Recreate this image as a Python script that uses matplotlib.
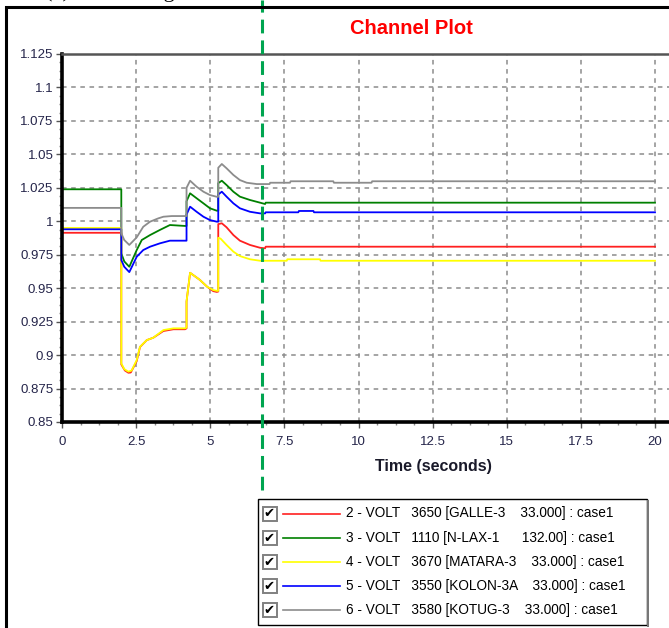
import matplotlib.pyplot as plt
from matplotlib.patches import Rectangle
from matplotlib.ticker import MultipleLocator, AutoMinorLocator

# ---- data (time in s, voltage in pu) ----
t_red = [0, 2.0, 2.0, 2.12, 2.24, 2.32, 2.52, 2.63, 2.86, 3.08, 3.42, 3.76, 4.15, 4.2,
         4.2, 4.32, 4.65, 4.9, 5.1, 5.22, 5.27, 5.27, 5.39, 5.55, 5.78, 6.0, 6.34, 6.68,
         6.85, 6.87, 20]
v_red = [0.9914, 0.9914, 0.8930, 0.8885, 0.8868, 0.8870, 0.8955, 0.9060, 0.9112, 0.9130,
         0.9180, 0.9193, 0.9193, 0.9200, 0.9400, 0.9615, 0.9562, 0.9510, 0.9478, 0.9472,
         0.9475, 0.9979, 0.9985, 0.9955, 0.9897, 0.9855, 0.9823, 0.9802, 0.9798, 0.9810, 0.9810]

t_green = [0, 2.0, 2.0, 2.1, 2.27, 2.52, 2.69, 2.97, 3.3, 3.64, 4.15, 4.2, 4.2, 4.32, 4.54,
           4.77, 4.99, 5.22, 5.27, 5.27, 5.39, 5.55, 5.78, 6.0, 6.34, 6.68, 6.85, 6.87, 20]
v_green = [1.0239, 1.0239, 0.9760, 0.9700, 0.9660, 0.9785, 0.9860, 0.9897, 0.9935, 0.9972,
           0.9965, 0.9965, 1.0150, 1.0209, 1.0172, 1.0134, 1.0097, 1.0079, 1.0079, 1.0285,
           1.0303, 1.0271, 1.0221, 1.0184, 1.0159, 1.0139, 1.0129, 1.0139, 1.0139]

t_yellow = [0, 2.0, 2.0, 2.1, 2.24, 2.35, 2.52, 2.63, 2.86, 3.08, 3.42, 3.76, 4.15, 4.2,
            4.2, 4.32, 4.65, 4.9, 5.1, 5.22, 5.27, 5.27, 5.35, 5.55, 5.78, 6.0, 6.34, 6.68,
            7.58, 7.6, 8.7, 8.72, 20]
v_yellow = [0.9950, 0.9950, 0.8938, 0.8895, 0.8876, 0.8885, 0.8963, 0.9062, 0.9112, 0.9130,
            0.9187, 0.9200, 0.9200, 0.9205, 0.9400, 0.9615, 0.9562, 0.9510, 0.9486, 0.9480,
            0.9480, 0.9877, 0.9870, 0.9823, 0.9773, 0.9740, 0.9716, 0.9705, 0.9705, 0.9716,
            0.9716, 0.9705, 0.9705]

t_blue = [0, 2.0, 2.0, 2.1, 2.27, 2.52, 2.74, 2.97, 3.3, 3.64, 4.15, 4.2, 4.2, 4.32, 4.54,
          4.77, 4.99, 5.22, 5.27, 5.27, 5.39, 5.55, 5.78, 6.0, 6.34, 6.68, 6.85, 6.87, 7.97,
          7.99, 8.48, 8.5, 20]
v_blue = [0.9940, 0.9940, 0.9710, 0.9660, 0.9620, 0.9735, 0.9785, 0.9810, 0.9835, 0.9855,
          0.9855, 0.9855, 1.0050, 1.0109, 1.0071, 1.0034, 1.0009, 0.9997, 0.9997, 1.0200,
          1.0221, 1.0184, 1.0134, 1.0097, 1.0071, 1.0059, 1.0059, 1.0067, 1.0067, 1.0077,
          1.0077, 1.0067, 1.0067]

t_gray = [0, 2.0, 2.0, 2.1, 2.27, 2.52, 2.74, 2.97, 3.25, 3.42, 3.7, 4.15, 4.2, 4.2, 4.32,
          4.54, 4.77, 4.99, 5.22, 5.27, 5.27, 5.39, 5.55, 5.78, 6.0, 6.23, 6.57, 7.0, 7.02,
          7.69, 7.71, 9.15, 9.17, 10.44, 10.46, 20]
v_gray = [1.0100, 1.0100, 0.9910, 0.9860, 0.9823, 0.9880, 0.9959, 0.9997, 1.0022, 1.0034,
          1.0039, 1.0039, 1.0039, 1.0250, 1.0303, 1.0258, 1.0221, 1.0196, 1.0183, 1.0183,
          1.0400, 1.0428, 1.0396, 1.0346, 1.0308, 1.0288, 1.0278, 1.0278, 1.0288, 1.0288,
          1.0299, 1.0299, 1.0288, 1.0288, 1.0299, 1.0299]

series = [
    (t_red, v_red, "#ff2020"),
    (t_green, v_green, "#008000"),
    (t_yellow, v_yellow, "#ffff00"),
    (t_blue, v_blue, "#0000ff"),
    (t_gray, v_gray, "#8c8c8c"),
]

legend_labels = [
    "2 - VOLT   3650 [GALLE-3    33.000] : case1",
    "3 - VOLT   1110 [N-LAX-1      132.00] : case1",
    "4 - VOLT   3670 [MATARA-3    33.000] : case1",
    "5 - VOLT   3550 [KOLON-3A    33.000] : case1",
    "6 - VOLT   3580 [KOTUG-3    33.000] : case1",
]

marker_time = 6.73
x_ticks = [0, 2.5, 5, 7.5, 10, 12.5, 15, 17.5, 20]
x_tick_labels = ["0", "2.5", "5", "7.5", "10", "12.5", "15", "17.5", "20"]
y_ticks = [0.85, 0.875, 0.9, 0.925, 0.95, 0.975, 1.0, 1.025, 1.05, 1.075, 1.1, 1.125]
y_tick_labels = ["0.85", "0.875", "0.9", "0.925", "0.95", "0.975", "1", "1.025", "1.05",
                 "1.075", "1.1", "1.125"]

W, H = 669, 628
plt.rcParams['font.family'] = ['Liberation Sans', 'DejaVu Sans']

fig = plt.figure(figsize=(W / 100, H / 100), dpi=100)

# outer window frame (left and top edges only are visible)
fig.patches.append(Rectangle((6 / W, -0.1), 1.2, 1 - 7 / H + 0.1, transform=fig.transFigure,
                             fill=False, edgecolor="black", linewidth=2.2))

# caption of the page, mostly cut off at the top
fig.text(45 / W, 1.0 + 3 / H, "(a) Bus Voltage", family="Liberation Serif", fontsize=16.2,
         va="baseline", ha="left", color="black")

ax = fig.add_axes([62 / W, 1 - 422 / H, (W - 62) / W, (422 - 54) / H])
for t, v, c in series:
    ax.plot(t, v, color=c, linewidth=1.3)

ax.set_xlim(0, 20 * (W - 62) / (655 - 62))
ax.set_ylim(0.85, 1.125)
ax.set_xticks(x_ticks)
ax.set_xticklabels(x_tick_labels)
ax.set_yticks(y_ticks)
ax.set_yticklabels(y_tick_labels)
ax.xaxis.set_minor_locator(MultipleLocator(0.625))
ax.yaxis.set_minor_locator(AutoMinorLocator(4))
ax.tick_params(which="major", length=4, width=1, color="#555555", labelsize=9.5,
               labelcolor="#25254a")
ax.tick_params(axis="x", pad=6)
ax.tick_params(axis="y", pad=2)
ax.tick_params(which="minor", length=2.5, width=1, color="#888888")
ax.grid(True, which="major", color="#8c8c8c", linestyle=(0, (3, 3)), linewidth=1.1)

ax.spines["right"].set_visible(False)
ax.spines["top"].set_color("#555555")
ax.spines["top"].set_linewidth(1.8)
ax.spines["left"].set_linewidth(2.6)
ax.spines["bottom"].set_linewidth(2.6)

ax.set_xlabel("Time (seconds)", fontsize=11.5, fontweight="bold", color="#1a1a2a")
ax.xaxis.set_label_coords((433 - 62) / (W - 62), -(459 - 422) / (422 - 54))

fig.text(411 / W, 1 - 29 / H, "Channel Plot", color="red", fontsize=14.5,
         fontweight="bold", ha="center", va="center")

# cursor line at the marked time
ax.axvline(marker_time, ymin=-(490 - 422) / (422 - 54), ymax=422 / (422 - 54),
           color="#00a550", linewidth=2.2, linestyle=(0, (4.5, 2.3)), clip_on=False, zorder=5)

# legend window drawn in pixel units
lx0, ly0, lx1, ly1 = 257, 498, 649, 627
lax = fig.add_axes([lx0 / W, 1 - ly1 / H, (lx1 - lx0) / W, (ly1 - ly0) / H])
lax.set_xlim(lx0, lx1)
lax.set_ylim(ly1, ly0)
lax.axis("off")
lax.add_patch(Rectangle((lx0 + 1, ly0 + 1), lx1 - lx0 - 3, ly1 - ly0 - 3, fill=False,
                        edgecolor="black", linewidth=1.0))
lax.plot([lx1 - 1.5, lx1 - 1.5], [ly0 + 3, ly1], color="#777777", linewidth=1.5)
for i, ((t, v, c), lab) in enumerate(zip(series, legend_labels)):
    yc = 513.5 + i * 24.2
    lax.add_patch(Rectangle((262.5, yc - 7), 14, 14, facecolor="white",
                            edgecolor="#808080", linewidth=1.4))
    lax.text(269.5, yc + 0.5, "\u2714", family="DejaVu Sans", fontsize=9.5,
             ha="center", va="center", color="black")
    lax.plot([283, 340], [yc, yc], color=c, linewidth=1.2)
    lax.text(345.5, yc, lab, fontsize=9.8, ha="left", va="center", color="black")

fig.savefig("out.png", dpi=100)
